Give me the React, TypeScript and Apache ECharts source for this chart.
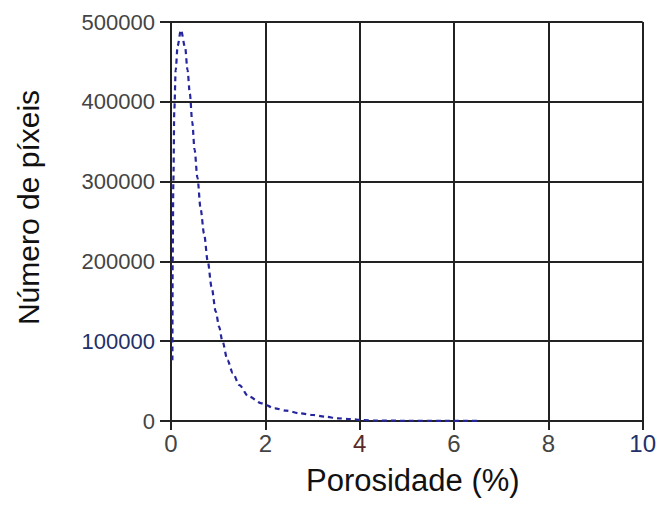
import React, { useEffect, useRef } from "react";
import * as echarts from "echarts";

const porosity = [
  0.03, 0.035, 0.05, 0.07, 0.1, 0.14, 0.21, 0.3, 0.35, 0.4, 0.45, 0.5, 0.56, 0.63, 0.7,
  0.78, 0.86, 0.95, 1.02, 1.09, 1.2, 1.31, 1.45, 1.64, 1.92, 2.2, 2.45, 2.73, 3.01,
  3.26, 3.54, 3.79, 4.07, 4.36, 5.0, 5.8, 6.55,
];
const pixels = [
  76000, 200000, 300000, 390000, 440000, 470000, 490000, 468000, 440000, 410000,
  375000, 340000, 305000, 265000, 235000, 200000, 168000, 137000, 118000, 100000,
  76000, 60000, 45000, 31000, 22200, 15900, 12900, 9600, 7500, 5400, 3400, 2500,
  1250, 500, 300, 200, 100,
];
const xTicks = [0, 2, 4, 6, 8, 10];
const yTicks = [0, 100000, 200000, 300000, 400000, 500000];

export default function App() {
  const ref = useRef<HTMLDivElement>(null);
  useEffect(() => {
    if (!ref.current) return;
    const chart = echarts.init(ref.current, null, { renderer: "svg" });
    const font = "'Liberation Sans', Arial, sans-serif";
    chart.setOption({
      animation: false,
      backgroundColor: "#ffffff",
      grid: { left: 171, right: 16, top: 22, bottom: 85, containLabel: false },
      xAxis: {
        type: "value",
        min: xTicks[0],
        max: xTicks[xTicks.length - 1],
        interval: 2,
        name: "Porosidade (%)",
        nameLocation: "middle",
        nameGap: 44,
        nameTextStyle: { fontSize: 31, color: "#111", fontFamily: font, padding: [0, 0, 0, 12] },
        axisLine: { show: true, lineStyle: { color: "#222", width: 2 } },
        axisTick: { show: true, inside: false, length: 9, lineStyle: { color: "#222", width: 2 } },
        axisLabel: {
          fontSize: 24,
          fontFamily: font,
          margin: 10,
          formatter: (v: number) => String(v),
          color: (v: number) => (Number(v) === 10 ? "#22306a" : Number(v) === 4 ? "#5a2a2a" : "#444"),
        },
        splitLine: { show: true, lineStyle: { color: "#222", width: 2 } },
      },
      yAxis: {
        type: "value",
        min: yTicks[0],
        max: yTicks[yTicks.length - 1],
        interval: 100000,
        name: "Número de píxeis",
        nameLocation: "middle",
        nameRotate: 90,
        nameGap: 128,
        nameTextStyle: { fontSize: 30, color: "#111", fontFamily: font, padding: [0, 0, 0, 28] },
        axisLine: { show: true, lineStyle: { color: "#222", width: 2 } },
        axisTick: { show: true, inside: false, length: 11, lineStyle: { color: "#222", width: 2 } },
        axisLabel: {
          fontSize: 22,
          fontFamily: font,
          margin: 16,
          formatter: (v: number) => String(v),
          color: (v: number) => (Number(v) === 100000 ? "#22306a" : "#444"),
        },
        splitLine: { show: true, lineStyle: { color: "#222", width: 2 } },
      },
      series: [
        {
          type: "line",
          data: porosity.map((x, i) => [x, pixels[i]]),
          showSymbol: false,
          smooth: 0.3,
          smoothMonotone: "x",
          lineStyle: { color: "#25259e", width: 2.2, type: [5, 4] },
          z: 5,
        },
      ],
    });
    return () => chart.dispose();
  }, []);
  return <div ref={ref} style={{ width: 659, height: 506, position: "absolute", left: 0, top: 0 }} />;
}
